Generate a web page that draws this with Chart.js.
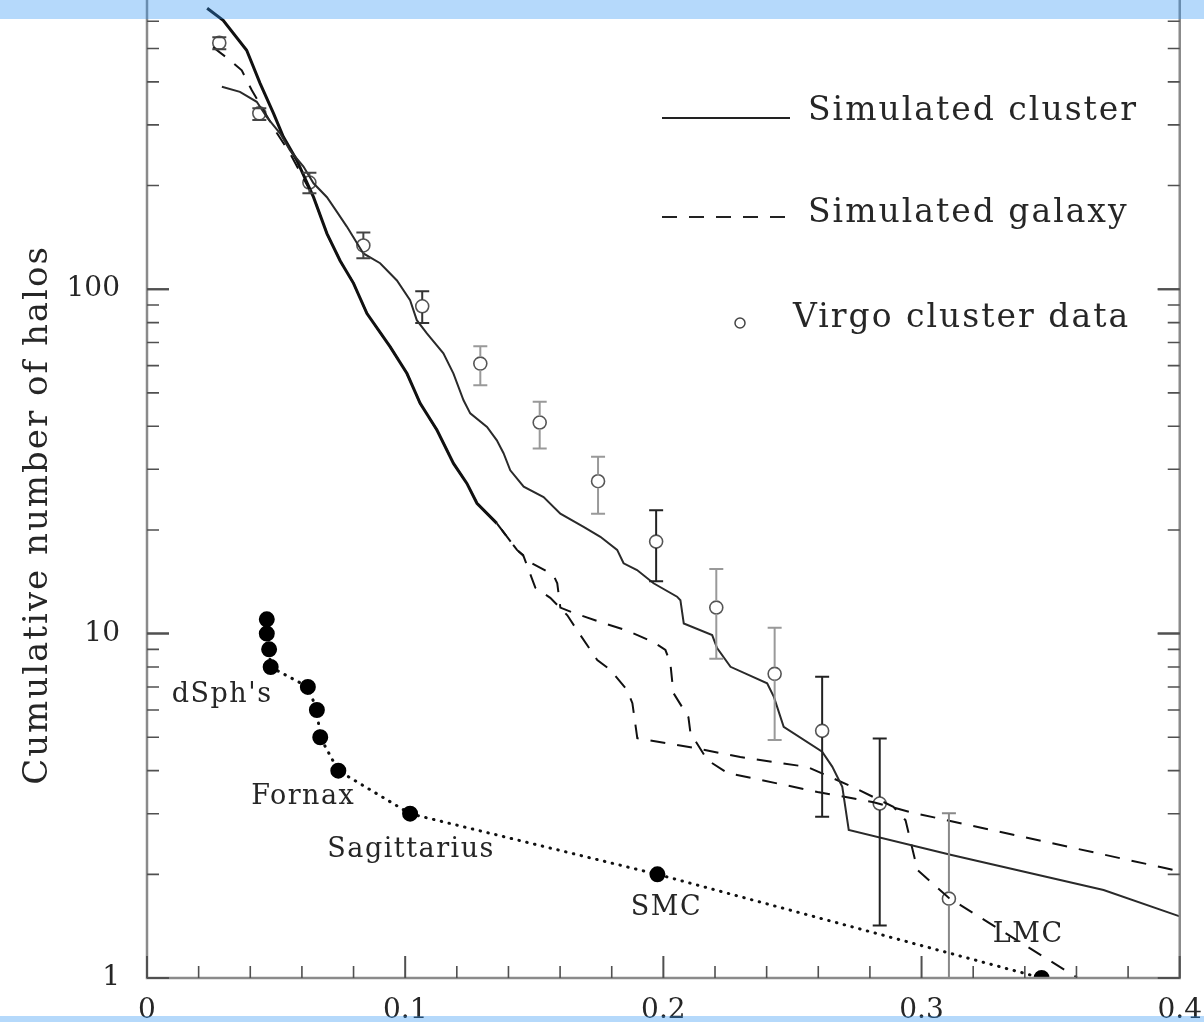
<!DOCTYPE html>
<html><head><meta charset="utf-8">
<script src="https://cdn.jsdelivr.net/npm/chart.js@4/dist/chart.umd.min.js"></script>
<style>
html,body{margin:0;padding:0;background:#fff;overflow:hidden;width:1204px;height:1022px;}
#wrap{position:absolute;left:0;top:-99px;width:1218px;height:1121px;}
.band{position:absolute;left:0;width:1204px;background:rgba(44,146,244,0.35);pointer-events:none;}
</style></head><body>
<div id="wrap"><canvas id="c"></canvas></div>
<div class="band" style="top:0;height:19px"></div>
<div class="band" style="top:1016px;height:6px"></div>
<script>
// ---------- data ----------
const xTickLabels = ['0', '0.1', '0.2', '0.3', '0.4'];
const yTickLabels = ['1', '10', '100'];

const clusterX = [0.0290,0.0360,0.0425,0.0464,0.0516,0.0554,0.0606,0.0645,0.0697,0.0735,0.0774,0.0838,0.0903,0.0968,0.1019,0.1045,0.1084,0.1148,0.1187,0.1226,0.1252,0.1317,0.1355,0.1381,0.1407,0.1459,0.1536,0.1601,0.1691,0.1756,0.1821,0.1846,0.1898,0.1962,0.2053,0.2066,0.2079,0.2189,0.2208,0.2260,0.2402,0.2428,0.2466,0.2615,0.2654,0.2693,0.2718,0.3112,0.3705,0.4000];
const clusterY = [387,374,350,316,283,253,227,203,185,168,152,127,119,106,92.9,81.3,74.4,65.1,56.9,47.6,43.6,39.8,36.4,33.4,29.8,26.7,24.9,22.3,20.4,19.1,17.5,16.0,15.3,14.0,12.8,12.5,10.7,9.90,9.08,8.01,7.17,6.55,5.36,4.54,4.11,3.59,2.69,2.28,1.80,1.51];

const galaxy1X = [0.0233,0.0295,0.0386,0.0438,0.0490,0.0528,0.0580,0.0645,0.0697,0.0748,0.0800,0.0852,0.0942,0.1007,0.1058,0.1123,0.1187,0.1239,0.1278,0.1355,0.1433,0.1491,0.1574,0.1589,0.1601,0.1651,0.1756,0.1860,0.1961,0.2008,0.2027,0.2039,0.2097,0.2105,0.2171,0.2248,0.2597,0.2814,0.2957,0.3938,0.4000];
const galaxy1Y = [654,604,494,396,324,277,237,185,145,121,104,85.0,68.0,56.9,46.6,39.0,31.2,27.3,23.9,20.9,17.5,16.0,14.8,14.0,11.9,11.5,10.8,10.2,9.45,8.96,8.21,6.72,5.72,5.14,4.29,3.94,3.47,3.24,3.03,2.09,2.04];

const galaxy2X = [0.0256,0.0322,0.0367,0.0406,0.0503,0.0554,0.0645,0.0697,0.0748,0.0800,0.0852,0.0942,0.1007,0.1058,0.1123,0.1187,0.1239,0.1278,0.1355,0.1433,0.1457,0.1504,0.1562,0.1628,0.1667,0.1744,0.1795,0.1860,0.1880,0.1899,0.2105,0.2298,0.2558,0.2736,0.2891,0.2938,0.2984,0.3105,0.3605];
const galaxy2Y = [504,462,432,378,284,248,185,145,121,104,85.0,68.0,56.9,46.6,39.0,31.2,27.3,23.9,20.9,17.5,16.9,13.6,12.7,11.3,10.2,8.38,7.84,6.85,6.28,4.97,4.68,4.38,4.10,3.58,3.14,2.87,2.06,1.71,1.0];

const virgoX  = [0.0280,0.0435,0.0629,0.0838,0.1066,0.1291,0.1521,0.1747,0.1972,0.2205,0.2431,0.2615,0.2838,0.3106];
const virgoY  = [519,324,204,134,89.2,60.8,41.0,27.7,18.5,11.9,7.64,5.22,3.21,1.70];
const virgoLo = [497,310,190,123,79.8,52.6,34.5,22.3,14.2,8.45,4.91,2.94,1.42,0.5];
const virgoHi = [539,335,218,146,98.7,68.3,47.1,32.6,22.8,15.4,10.4,7.49,4.96,3.01];

const dwarfX = [0.0464,0.0464,0.0473,0.0479,0.0623,0.0658,0.0671,0.0741,0.1019,0.1977,0.3465];
const dwarfY = [11,10,9,8,7,6,5,4,3,2,1];

const labelText = ["dSph's", 'Fornax', 'Sagittarius', 'SMC', 'LMC'];
const labelX = [0.0291, 0.0605, 0.1023, 0.2012, 0.3413];
const labelY = [6.63, 3.35, 2.35, 1.60, 1.33];

const legendText = ['Simulated cluster', 'Simulated galaxy', 'Virgo cluster data'];

// ---------- styling ----------
const FONT = "'DejaVu Serif', serif";
const TEXT = '#262626';
const OFF = 99; // canvas offset above page top
const errColor = ['#444','#444','#444','#444','#333','#999','#999','#999','#222','#999','#999','#222','#222','#888'];

const pts = (xs, ys) => xs.map((x, i) => ({x: x, y: ys[i]}));

const decoPlugin = {
  id: 'deco',
  afterDatasetsDraw(chart) {
    const ctx = chart.ctx, xs = chart.scales.x, ys = chart.scales.y, a = chart.chartArea;
    ctx.save();
    // error bars
    ctx.save();
    ctx.beginPath(); ctx.rect(a.left, a.top, a.right - a.left, a.bottom - a.top); ctx.clip();
    virgoX.forEach((v, i) => {
      const px = xs.getPixelForValue(v);
      const pt = ys.getPixelForValue(virgoHi[i]);
      const pb = ys.getPixelForValue(virgoLo[i]);
      const pc = ys.getPixelForValue(virgoY[i]);
      ctx.strokeStyle = errColor[i]; ctx.lineWidth = 2;
      ctx.beginPath();
      ctx.moveTo(px, pt); ctx.lineTo(px, pc - 6.5);
      ctx.moveTo(px, pc + 6.5); ctx.lineTo(px, pb);
      ctx.moveTo(px - 7, pt); ctx.lineTo(px + 7, pt);
      ctx.moveTo(px - 7, pb); ctx.lineTo(px + 7, pb);
      ctx.stroke();
    });
    ctx.restore();

    // frame
    ctx.strokeStyle = '#8a8a8a'; ctx.lineWidth = 2.5;
    ctx.strokeRect(a.left, a.top, a.right - a.left, a.bottom - a.top);

    // ticks (inward) on all four sides
    ctx.strokeStyle = '#505050';
    for (let k = 0; k <= 20; k++) {
      const v = k * 0.02;
      const major = k % 5 === 0;
      const L = major ? 22 : 12;
      const p = xs.getPixelForValue(v);
      ctx.lineWidth = major ? 2 : 1.6;
      ctx.beginPath();
      ctx.moveTo(p, a.bottom); ctx.lineTo(p, a.bottom - L);
      ctx.moveTo(p, a.top); ctx.lineTo(p, a.top + L);
      ctx.stroke();
    }
    for (let d = 1; d <= 100; d *= 10) {
      for (let m = 1; m <= 10; m++) {
        const v = m * d;
        const major = (m === 1 || m === 10);
        const L = major ? 22 : 12;
        const p = ys.getPixelForValue(v);
        ctx.lineWidth = major ? 2 : 1.6;
        ctx.beginPath();
        ctx.moveTo(a.left, p); ctx.lineTo(a.left + L, p);
        ctx.moveTo(a.right, p); ctx.lineTo(a.right - L, p);
        ctx.stroke();
      }
    }

    // axis title
    ctx.fillStyle = TEXT;
    ctx.font = "34px " + FONT;
    ctx.letterSpacing = '2px';
    ctx.textAlign = 'center'; ctx.textBaseline = 'middle';
    ctx.save();
    ctx.translate(38, 515 + OFF);
    ctx.rotate(-Math.PI / 2);
    ctx.fillText('Cumulative number of halos', 0, 0);
    ctx.restore();

    // satellite labels
    ctx.font = "27px " + FONT;
    ctx.letterSpacing = '1.5px';
    labelText.forEach((t, i) => {
      ctx.fillText(t, xs.getPixelForValue(labelX[i]), ys.getPixelForValue(labelY[i]));
    });

    // legend
    ctx.font = "33px " + FONT;
    ctx.letterSpacing = '2px';
    ctx.textAlign = 'left'; ctx.textBaseline = 'alphabetic';
    ctx.strokeStyle = '#222'; ctx.lineWidth = 2;
    ctx.beginPath(); ctx.moveTo(662, 118 + OFF); ctx.lineTo(790, 118 + OFF); ctx.stroke();
    ctx.fillText(legendText[0], 808, 120 + OFF);
    ctx.setLineDash([15, 12]);
    ctx.beginPath(); ctx.moveTo(662, 217 + OFF); ctx.lineTo(790, 217 + OFF); ctx.stroke();
    ctx.setLineDash([]);
    ctx.fillText(legendText[1], 808, 222 + OFF);
    ctx.strokeStyle = '#444'; ctx.lineWidth = 1.5;
    ctx.beginPath(); ctx.arc(740, 323 + OFF, 5, 0, Math.PI * 2); ctx.stroke();
    ctx.fillText(legendText[2], 793, 327 + OFF);
    ctx.letterSpacing = '0px';
    ctx.restore();
  }
};

new Chart(document.getElementById('c'), {
  type: 'scatter',
  data: {
    datasets: [
      { label: 'Simulated cluster', data: pts(clusterX, clusterY), showLine: true,
        borderColor: '#2a2a2a', borderWidth: 2, pointRadius: 0, tension: 0 },
      { label: 'Simulated galaxy 1', data: pts(galaxy1X, galaxy1Y), showLine: true,
        borderColor: '#111', borderWidth: 2.6, pointRadius: 0, tension: 0,
        segment: { borderDash: c => c.p0.parsed.x < 0.128 ? [] : [15, 12],
                   borderWidth: c => c.p0.parsed.x < 0.128 ? 3 : 2 } },
      { label: 'Simulated galaxy 2', data: pts(galaxy2X, galaxy2Y), showLine: true,
        borderColor: '#111', borderWidth: 2, borderDash: [15, 12], pointRadius: 0, tension: 0 },
      { label: 'Local Group satellites', data: pts(dwarfX, dwarfY), showLine: true,
        borderColor: '#111', borderWidth: 3, borderDash: [0.5, 7.5], borderCapStyle: 'round',
        pointRadius: 6.5, pointBackgroundColor: '#000', pointBorderColor: '#000', tension: 0 },
      { label: 'Virgo cluster data', data: pts(virgoX, virgoY), showLine: false,
        pointRadius: 6.5, pointBorderWidth: 1.6, pointBorderColor: '#555',
        pointBackgroundColor: 'rgba(0,0,0,0)' }
    ]
  },
  options: {
    responsive: true, maintainAspectRatio: false, animation: false, devicePixelRatio: 1,
    layout: { padding: { top: 0, right: 11, left: 0, bottom: 0 } },
    plugins: { legend: { display: false }, tooltip: { enabled: false } },
    scales: {
      x: {
        type: 'linear', min: 0, max: 0.4,
        afterFit: s => { s.height = 44; },
        grid: { display: false, drawTicks: false },
        border: { display: false },
        ticks: { stepSize: 0.1, padding: 16, color: TEXT, font: { family: FONT, size: 28 },
                 callback: (v) => { const i = Math.round(v * 10); return Math.abs(v * 10 - i) < 1e-6 ? xTickLabels[i] : ''; } }
      },
      y: {
        type: 'logarithmic', min: 1, max: 1000,
        afterFit: s => { s.width = 147; },
        grid: { display: false, drawTicks: false },
        border: { display: false },
        ticks: { autoSkip: false, padding: 27, color: TEXT, font: { family: FONT, size: 28 },
                 callback: (v) => { const i = yTickLabels.indexOf(String(v)); return i >= 0 ? yTickLabels[i] : ''; } }
      }
    }
  },
  plugins: [decoPlugin]
});
</script>
</body></html>
